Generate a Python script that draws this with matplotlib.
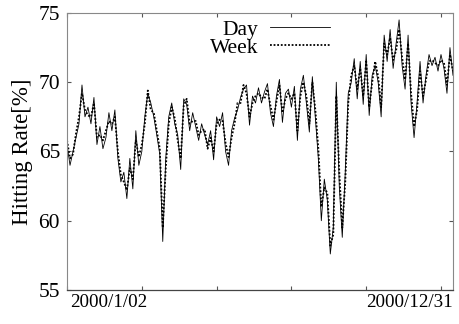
# Hitting rate over the year 2000, day vs week

import matplotlib
matplotlib.use('Agg')
import matplotlib.pyplot as plt

# Data (one sample every few trading days)
day = [65.5, 64.0, 65.0, 66.0, 67.0, 69.8, 67.5, 68.2, 67.0, 68.9,
       65.5, 66.8, 65.2, 66.0, 67.8, 66.5, 68.0, 64.5, 62.8, 63.5,
       61.6, 64.5, 62.3, 66.5, 64.0, 65.0, 67.5, 69.2, 68.5, 67.5,
       66.2, 64.8, 58.5, 64.5, 67.5, 68.5, 67.0, 66.2, 63.7, 68.8,
       68.4, 66.5, 67.8, 66.8, 65.8, 67.0, 66.2, 65.5, 66.5, 64.4,
       67.5, 66.8, 67.8, 65.0, 64.0, 66.5, 67.4, 68.0, 68.9, 69.5,
       69.8, 66.9, 69.0, 68.5, 69.6, 68.5, 69.3, 69.9, 67.8, 66.8,
       69.0, 70.2, 67.1, 69.2, 69.5, 68.2, 69.7, 65.8, 69.5, 70.5,
       68.5, 66.4, 70.4, 67.5, 64.5, 60.0, 63.0, 61.5, 57.6, 59.5,
       70.0, 62.5, 58.8, 63.5, 69.2, 70.0, 71.7, 68.8, 71.5, 68.4,
       72.0, 67.6, 70.5, 71.2, 70.0, 67.5, 73.4, 71.5, 73.8, 71.0,
       72.8, 74.5, 71.2, 69.5, 73.4, 68.5, 66.0, 68.5, 71.5, 68.5,
       70.5, 72.0, 71.2, 71.8, 70.8, 72.0, 71.0, 69.2, 72.5, 70.5]

week = [65.8, 64.5, 64.8, 66.3, 67.5, 69.2, 68.0, 67.6, 67.5, 68.5,
        66.0, 66.2, 65.8, 66.5, 67.2, 67.0, 67.5, 65.0, 63.3, 62.8,
        62.2, 63.8, 63.0, 65.8, 64.6, 65.5, 67.0, 69.4, 68.0, 67.8,
        66.5, 65.2, 59.5, 63.8, 67.0, 68.2, 67.4, 65.8, 64.5, 68.3,
        68.8, 67.0, 67.2, 67.2, 66.2, 66.5, 66.6, 65.2, 66.0, 65.0,
        67.0, 67.3, 67.2, 65.6, 64.6, 66.0, 67.0, 68.5, 68.5, 69.8,
        69.2, 67.5, 68.5, 69.0, 69.2, 68.9, 68.8, 69.5, 68.3, 67.3,
        68.6, 69.8, 67.8, 68.8, 69.2, 68.8, 69.2, 66.5, 69.0, 70.0,
        69.0, 67.0, 70.0, 68.0, 65.2, 61.0, 62.4, 62.0, 58.2, 59.0,
        69.0, 63.5, 59.5, 62.8, 68.5, 70.5, 71.2, 69.5, 71.0, 69.0,
        71.5, 68.2, 70.0, 71.5, 70.4, 68.2, 72.8, 72.0, 73.2, 71.6,
        72.3, 73.8, 71.8, 70.2, 72.8, 69.2, 66.8, 68.0, 70.8, 69.0,
        70.2, 71.5, 71.6, 71.4, 71.2, 71.6, 71.4, 69.8, 72.0, 70.8]

date_labels = ['2000/1/02', '2000/12/31']
yticks = [55, 60, 65, 70, 75]

plt.rcParams['font.family'] = 'Liberation Serif'

fig = plt.figure(figsize=(4.6, 3.24), dpi=100)
ax = fig.add_axes([0.1457, 0.105, 0.839, 0.855])

x = list(range(len(day)))
ax.plot(x, day, color='black', lw=0.6, ls='-', label='Day')
ax.plot(x, week, color='black', lw=1.3, ls=(0, (1, 1)), label='Week')

ax.set_xlim(0, 128.7)
ax.set_ylim(55, 75)

# unlabelled major ticks, dates as minor tick labels
ax.set_xticks([0, 25, 50, 75, 100, 125])
ax.set_xticklabels([])
ax.set_xticks([1, 129], date_labels, minor=True)
ax.tick_params(axis='x', which='minor', length=0, labelsize=13.7, pad=3)
minor_labels = ax.get_xticklabels(minor=True)
minor_labels[0].set_ha('left')
minor_labels[1].set_ha('right')

ax.set_yticks(yticks)
ax.tick_params(axis='both', which='major', direction='in', length=3,
               top=True, right=True, labelsize=15.5, color='#555')
ax.tick_params(axis='y', pad=5)

for side in ['left', 'top', 'right']:
    ax.spines[side].set_color('#888')
    ax.spines[side].set_linewidth(0.8)
ax.spines['bottom'].set_color('#444')
ax.spines['bottom'].set_linewidth(0.9)

ax.set_ylabel('Hitting Rate[%]', fontsize=16.5, labelpad=4)

ax.legend(loc='upper left', bbox_to_anchor=(0.37, 0.975), frameon=False,
          markerfirst=False, fontsize=15.5, handlelength=2.8,
          handletextpad=0.55, labelspacing=-0.1, borderpad=0,
          borderaxespad=0)

plt.savefig('out.png', dpi=100)
